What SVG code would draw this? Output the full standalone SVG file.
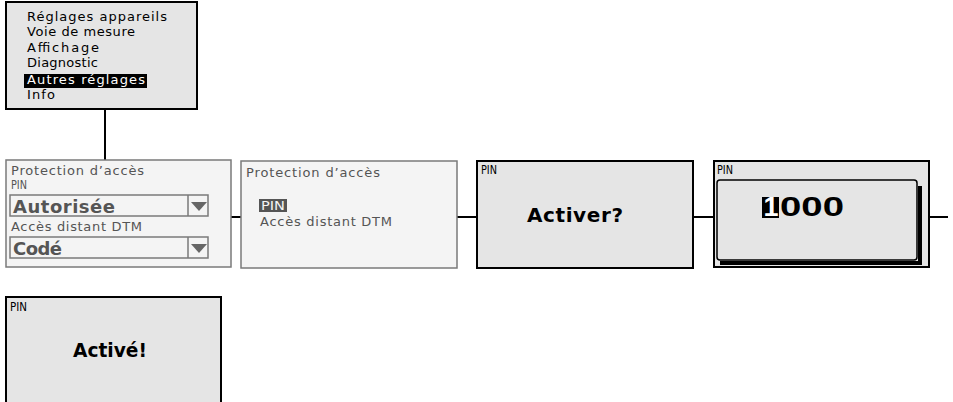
<svg xmlns="http://www.w3.org/2000/svg" width="953" height="402" viewBox="0 0 953 402">
<style>
.dark{fill:#e5e5e5;stroke:#000;stroke-width:2}
.light{fill:#f4f4f4;stroke:#7a7a7a;stroke-width:1.5}
.sm{font-family:"DejaVu Sans",sans-serif;font-size:13px;fill:#000}
.smg{font-family:"DejaVu Sans",sans-serif;font-size:13px;fill:#555}
.big{font-family:"DejaVu Sans",sans-serif;font-weight:bold;font-size:20px;fill:#000}
.bigg{font-family:"DejaVu Sans",sans-serif;font-weight:bold;font-size:18px;fill:#555}
.dig{font-family:"Liberation Sans",Arial,sans-serif;font-weight:bold;font-size:27px}
.dd{fill:none;stroke:#7a7a7a;stroke-width:1.5}
.con{stroke:#000;stroke-width:2;fill:none}
</style>
<rect width="953" height="402" fill="#fff"/>
<g id="connectors">
<line class="con" x1="105" y1="109" x2="105" y2="160"/>
<line class="con" x1="231" y1="217" x2="241" y2="217"/>
<line class="con" x1="457" y1="217" x2="477" y2="217"/>
<line class="con" x1="693" y1="217" x2="714" y2="217"/>
<line class="con" x1="929" y1="217" x2="948" y2="217"/>
</g>
<g id="menu">
<rect class="dark" x="6" y="2" width="191" height="107"/>
<rect x="24" y="74" width="123" height="14" fill="#000"/>
<text class="sm" x="27" y="21" textLength="140" lengthAdjust="spacing">Réglages appareils</text>
<text class="sm" x="27" y="36" textLength="108" lengthAdjust="spacing">Voie de mesure</text>
<text class="sm" x="27" y="52" textLength="72" lengthAdjust="spacing">Affichage</text>
<text class="sm" x="27" y="67" textLength="71" lengthAdjust="spacing">Diagnostic</text>
<text class="sm" x="27" y="84" textLength="118" lengthAdjust="spacing" style="fill:#fff">Autres réglages</text>
<text class="sm" x="27" y="99" textLength="28" lengthAdjust="spacing">Info</text>
</g>
<g id="protection-settings">
<rect class="light" x="6" y="160" width="225" height="107"/>
<text class="smg" x="11" y="175" textLength="133" lengthAdjust="spacing">Protection d’accès</text>
<text class="smg" x="11" y="189" textLength="16" lengthAdjust="spacingAndGlyphs">PIN</text>
<rect class="dd" x="10" y="195" width="198" height="21"/>
<line class="dd" x1="188" y1="195" x2="188" y2="216"/>
<polygon points="191,202 207,202 199,211" fill="#666"/>
<text class="bigg" x="13" y="213" textLength="102" lengthAdjust="spacing">Autorisée</text>
<text class="smg" x="11" y="231" textLength="131" lengthAdjust="spacing">Accès distant DTM</text>
<rect class="dd" x="10" y="237" width="198" height="21"/>
<line class="dd" x1="188" y1="237" x2="188" y2="258"/>
<polygon points="191,244 207,244 199,253" fill="#666"/>
<text class="bigg" x="13" y="255" textLength="49" lengthAdjust="spacing">Codé</text>
</g>
<g id="protection-menu">
<rect class="light" x="241" y="161" width="216" height="107"/>
<text class="smg" x="246" y="177" textLength="134" lengthAdjust="spacing">Protection d’accès</text>
<rect x="259" y="199" width="28" height="13" fill="#555"/>
<text class="sm" x="261" y="210" textLength="24" lengthAdjust="spacingAndGlyphs" style="fill:#f4f4f4">PIN</text>
<text class="smg" x="260" y="226" textLength="132" lengthAdjust="spacing">Accès distant DTM</text>
</g>
<g id="pin-activate">
<rect class="dark" x="477" y="161" width="216" height="107"/>
<text class="sm" x="481" y="174" textLength="16" lengthAdjust="spacingAndGlyphs">PIN</text>
<text class="big" x="527" y="222" textLength="96" lengthAdjust="spacing">Activer?</text>
</g>
<g id="pin-entry">
<rect class="dark" x="714" y="161" width="215" height="106"/>
<text class="sm" x="717" y="174" textLength="16" lengthAdjust="spacingAndGlyphs">PIN</text>
<path d="M720,263 L920,263 L920,186" fill="none" stroke="#000" stroke-width="4"/>
<rect x="717" y="180" width="200" height="80" rx="3" fill="#e5e5e5" stroke="#000" stroke-width="1.5"/>
<rect x="762" y="197" width="17" height="21" fill="#000"/>
<text class="dig" x="771" y="216" text-anchor="middle" style="fill:#fff">1</text>
<text class="dig" x="780" y="216" textLength="64" lengthAdjust="spacingAndGlyphs" style="fill:#000">000</text>
</g>
<g id="pin-activated">
<rect class="dark" x="6" y="297" width="215" height="115"/>
<text class="sm" x="10" y="311" textLength="17" lengthAdjust="spacingAndGlyphs">PIN</text>
<text class="big" x="73" y="357" textLength="74" lengthAdjust="spacingAndGlyphs">Activé!</text>
</g>
</svg>
